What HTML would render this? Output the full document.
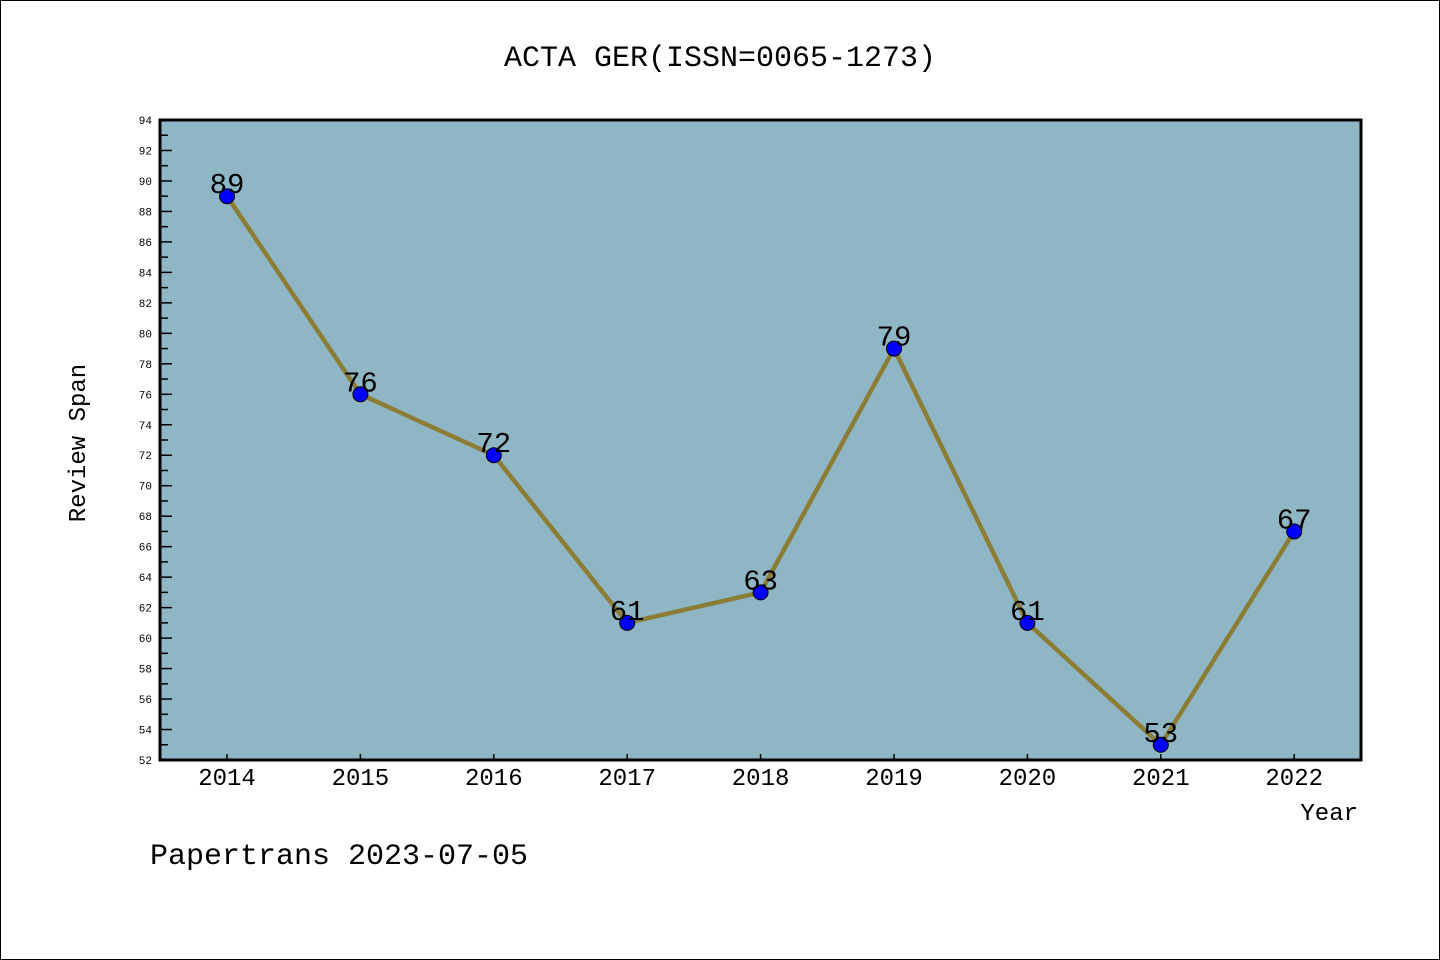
<!DOCTYPE html>
<html><head><meta charset="utf-8"><style>
html,body{margin:0;padding:0;background:#fff;}
svg{display:block;}
text{font-family:"Liberation Mono","DejaVu Sans Mono",monospace;}
</style></head><body>
<svg width="1440" height="960" xmlns="http://www.w3.org/2000/svg">
<rect x="0.5" y="0.5" width="1439" height="959" fill="#fff" stroke="#000" stroke-width="1"/>
<text x="720" y="66" font-size="30" text-anchor="middle">ACTA GER(ISSN=0065-1273)</text>
<rect x="160" y="120" width="1201" height="640" fill="#8fb6c4"/>
<g id="yt" stroke="#000" stroke-width="1.5"></g>
<g id="yl" font-size="11" text-anchor="end" font-family="'DejaVu Sans',sans-serif"></g>
<g id="xt" stroke="#000" stroke-width="1.5"></g>
<g id="xl" font-size="24" text-anchor="middle"></g>
<polyline id="ln" fill="none" stroke="#8b7d36" stroke-width="4.5" stroke-linejoin="round"/>
<g id="pts"></g>
<rect x="160" y="120" width="1201" height="640" fill="none" stroke="#000" stroke-width="3"/>
<text x="85" y="443" font-size="24" text-anchor="middle" transform="rotate(-90 85 443)">Review Span</text>
<text x="1358" y="820" font-size="24" text-anchor="end">Year</text>
<text x="150" y="864" font-size="30">Papertrans 2023-07-05</text>
</svg>
<script>
var ns="http://www.w3.org/2000/svg";
function Y(v){return 760-(v-52)*640/42;}
function X(i){return 227+i*133.4;}
function el(t,a,p,tx){var e=document.createElementNS(ns,t);for(var k in a)e.setAttribute(k,a[k]);if(tx!==undefined)e.textContent=tx;document.getElementById(p).appendChild(e);}
for(var v=52;v<=94;v++){var y=Y(v);var maj=v%2==0;el('line',{x1:160,x2:160+(maj?12:8),y1:y,y2:y},'yt');if(maj)el('text',{x:152,y:y+4},'yl',v);}
var d=[89,76,72,61,63,79,61,53,67],pts=[];
for(var i=0;i<9;i++){var x=X(i);el('line',{x1:x,x2:x,y1:760,y2:754},'xt');el('text',{x:x,y:785},'xl',2014+i);pts.push(x+','+Y(d[i]));}
document.getElementById('ln').setAttribute('points',pts.join(' '));
for(var i=0;i<9;i++){el('circle',{cx:X(i),cy:Y(d[i]),r:7.5,fill:'#0000ff',stroke:'#000','stroke-width':1},'pts');el('text',{x:X(i),y:Y(d[i])-3,'font-size':29,'text-anchor':'middle','font-family':"'DejaVu Sans',sans-serif"},'pts',d[i]);}
</script>
</body></html>
